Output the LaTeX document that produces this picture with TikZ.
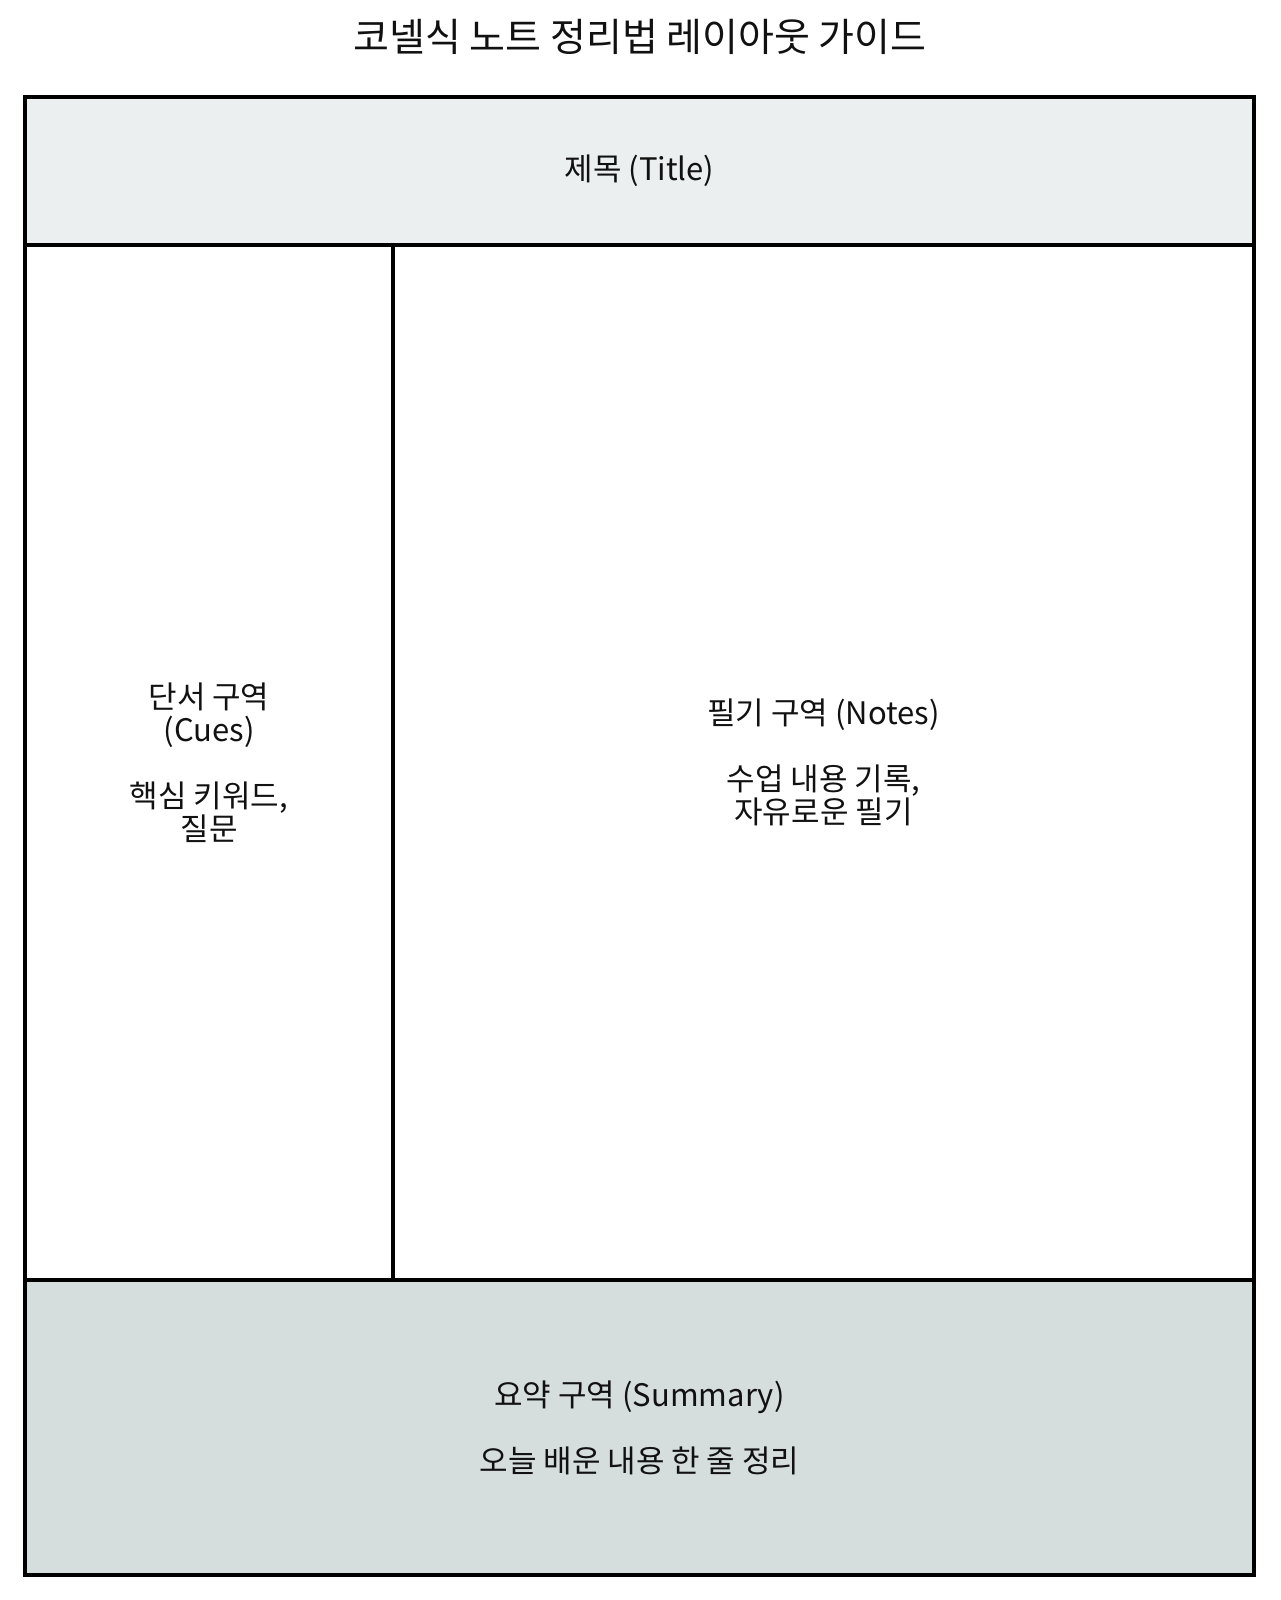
\documentclass[tikz,border=0pt]{standalone}
\usepackage{fontspec}
\setmainfont{Noto Sans CJK KR}
\usepackage{tikz}
\usetikzlibrary{positioning}
\definecolor{titlefill}{HTML}{EBEFF0}
\definecolor{summaryfill}{HTML}{D5DDDD}
\definecolor{inkgray}{HTML}{111111}
\tikzset{
  zone/.style={draw=black, line width=3.5pt, inner sep=0pt, align=center, text=inkgray,
    font=\fontsize{31}{33}\selectfont},
  heading/.style={text=inkgray, font=\fontsize{39}{44}\selectfont}
}

\begin{document}
\begin{tikzpicture}[x=1pt,y=-1pt]
\useasboundingbox[fill=white] (0,0) rectangle (1280,1600);
\node[heading] at (640,37)(guide){코넬식 노트 정리법 레이아웃 가이드};
% title row
\node[zone, fill=titlefill, minimum width=1229pt, minimum height=148pt] at (639.5,171)(title){제목 (Title)};
% cue and note columns
\node[zone, fill=white, minimum width=368pt, minimum height=1035pt] at (209,762.5)(cues){
단서 구역\\
(Cues)\\[33pt]
핵심 키워드,\\
질문
};
\node[zone, fill=white, minimum width=861pt, minimum height=1035pt] at (823.5,762.5)(notes){
필기 구역 (Notes)\\[33pt]
수업 내용 기록,\\
자유로운 필기
};
% summary row
\node[zone, fill=summaryfill, minimum width=1229pt, minimum height=295pt] at (639.5,1427.5)(summary){
요약 구역 (Summary)\\[33pt]
오늘 배운 내용 한 줄 정리
};
\end{tikzpicture}
\end{document}
